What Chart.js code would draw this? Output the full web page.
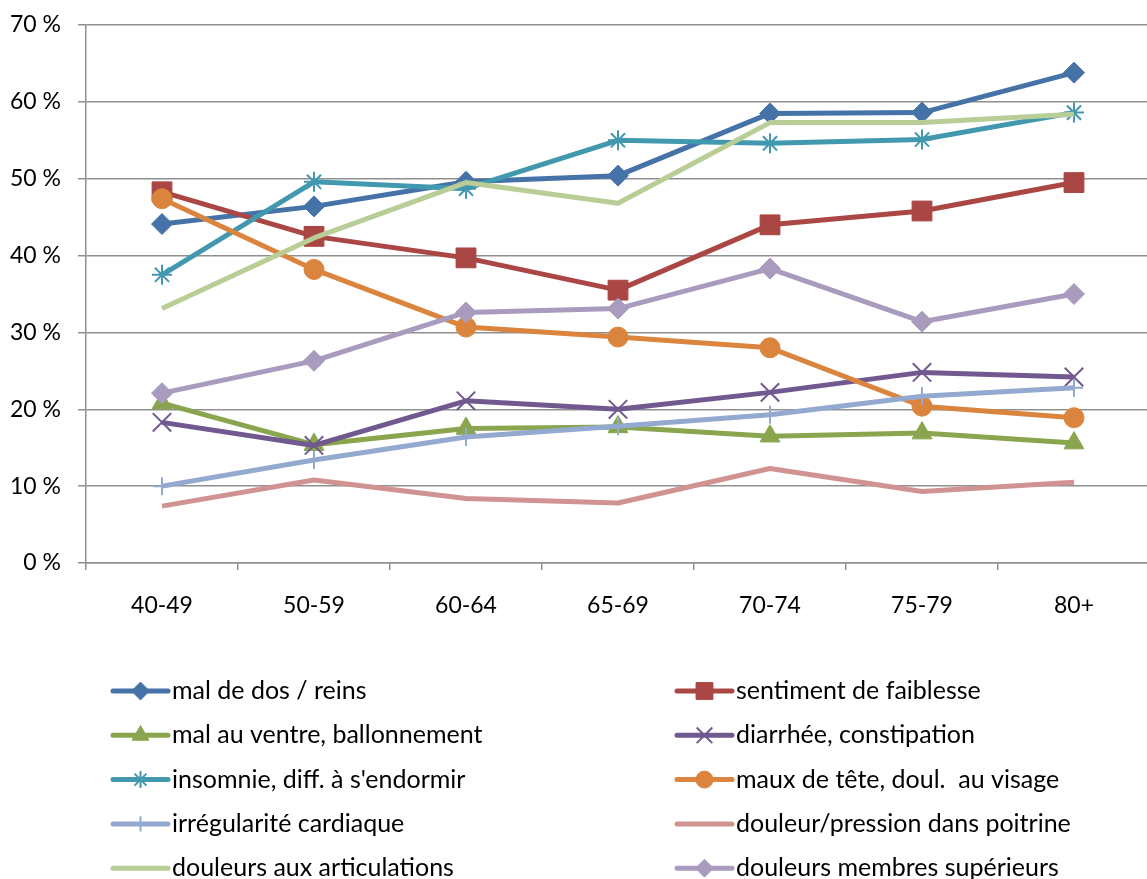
<!DOCTYPE html>
<html lang="fr">
<head>
<meta charset="utf-8">
<title>Symptômes par classe d'âge</title>
<script src="https://cdn.jsdelivr.net/npm/chart.js@4.4.1/dist/chart.umd.min.js"></script>
<style>
  html, body { margin: 0; padding: 0; background: #fff; overflow: hidden; width: 1147px; height: 879px; }
  #wrap { position: relative; width: 1147px; height: 879px; overflow: hidden; }
  #chart { position: absolute; left: 0; top: 0; display: block; }
</style>
</head>
<body>
<div id="wrap"><canvas id="chart" width="1165" height="879"></canvas></div>
<script>
// Age groups on the x axis
const ageGroups = ['40-49', '50-59', '60-64', '65-69', '70-74', '75-79', '80+'];

// Share of respondents reporting each complaint (%)
const malDeDos       = [44.1, 46.4, 49.6, 50.4, 58.5, 58.6, 63.8];
const faiblesse      = [48.3, 42.5, 39.7, 35.5, 44.0, 45.8, 49.5];
const malAuVentre    = [20.8, 15.4, 17.5, 17.7, 16.5, 16.9, 15.6];
const diarrhee       = [18.3, 15.3, 21.1, 20.0, 22.2, 24.8, 24.2];
const insomnie       = [37.5, 49.6, 48.7, 55.0, 54.6, 55.1, 58.6];
const mauxDeTete     = [47.4, 38.2, 30.7, 29.4, 28.0, 20.4, 18.9];
const cardiaque      = [10.0, 13.4, 16.4, 17.8, 19.3, 21.7, 22.8];
const poitrine       = [7.4, 10.8, 8.4, 7.8, 12.3, 9.3, 10.5];
const articulations  = [33.1, 42.3, 49.5, 46.8, 57.3, 57.3, 58.4];
const membresSup     = [22.1, 26.3, 32.6, 33.1, 38.3, 31.4, 35.0];

// Y axis tick values
const yTicks = [0, 10, 20, 30, 40, 50, 60, 70];

const FONT = 'Lato, "Liberation Sans", sans-serif';

function series(label, data, color, pointStyle, radius, pointBorder) {
  return {
    label, data,
    borderColor: color,
    backgroundColor: color,
    pointBackgroundColor: color,
    pointBorderColor: color,
    pointStyle: pointStyle || 'circle',
    pointRadius: radius || 0,
    pointHoverRadius: radius || 0,
    pointBorderWidth: pointBorder || 1,
    borderWidth: 5,
    borderJoinStyle: 'round',
    borderCapStyle: 'butt',
    tension: 0
  };
}

const datasets = [
  series('mal de dos / reins', malDeDos, '#4572A7', 'rectRot', 10.5, 1),
  series('sentiment de faiblesse', faiblesse, '#AA4643', 'rect', 14, 1),
  series('mal au ventre, ballonnement', malAuVentre, '#89A54E', 'triangle', 11.5, 1),
  series('diarrhée, constipation', diarrhee, '#71588F', 'crossRot', 13, 2),
  series('insomnie, diff. à s\'endormir', insomnie, '#4198AF', 'star', 10, 2),
  series('maux de tête, doul.  au visage', mauxDeTete, '#DB843D', 'circle', 10, 1),
  series('irrégularité cardiaque', cardiaque, '#93A9CF', 'cross', 9, 2),
  series('douleur/pression dans poitrine', poitrine, '#D19392', 'circle', 0, 1),
  series('douleurs aux articulations', articulations, '#B9CD96', 'circle', 0, 1),
  series('douleurs membres supérieurs', membresSup, '#A99BBD', 'rectRot', 10.5, 1)
];
// later series are painted over earlier ones
datasets.forEach((d, i) => { d.order = datasets.length - i; });

// Legend laid out in two columns below the plot
const LEGEND_COL_X = [113, 677];
const LEGEND_TOP = 691;
const LEGEND_ROW_H = 44.3;
const LEGEND_LINE_W = 55;

const twoColumnLegend = {
  id: 'twoColumnLegend',
  afterDraw(chart) {
    const ctx = chart.ctx;
    ctx.save();
    chart.data.datasets.forEach((ds, i) => {
      const x0 = LEGEND_COL_X[i % 2];
      const y = LEGEND_TOP + Math.floor(i / 2) * LEGEND_ROW_H;
      ctx.strokeStyle = ds.borderColor;
      ctx.lineWidth = 5;
      ctx.lineCap = 'round';
      ctx.beginPath();
      ctx.moveTo(x0, y);
      ctx.lineTo(x0 + LEGEND_LINE_W, y);
      ctx.stroke();
      if (ds.pointRadius > 0) {
        ctx.fillStyle = ds.pointBackgroundColor;
        ctx.strokeStyle = ds.pointBorderColor;
        ctx.lineWidth = ds.pointBorderWidth;
        ctx.lineCap = 'butt';
        Chart.helpers.drawPoint(ctx, {
          pointStyle: ds.pointStyle,
          radius: ds.pointRadius * 0.85,
          borderWidth: ds.pointBorderWidth,
          rotation: 0
        }, x0 + LEGEND_LINE_W / 2, y);
      }
      ctx.fillStyle = '#000';
      ctx.font = '25px ' + FONT;
      ctx.textAlign = 'left';
      ctx.textBaseline = 'middle';
      ctx.fillText(ds.label, x0 + LEGEND_LINE_W + 4, y);
    });
    ctx.restore();
  }
};

new Chart(document.getElementById('chart'), {
  type: 'line',
  data: { labels: ageGroups, datasets },
  plugins: [twoColumnLegend],
  options: {
    responsive: false,
    animation: false,
    layout: { padding: { top: 25, left: 0, right: 0, bottom: 0 } },
    plugins: {
      legend: { display: false },
      tooltip: { enabled: false },
      title: { display: false }
    },
    scales: {
      x: {
        offset: true,
        grid: {
          offset: true,
          drawOnChartArea: false,
          drawTicks: true,
          tickLength: 7,
          color: '#8f8f8f',
          lineWidth: 1.5
        },
        border: { color: '#8f8f8f', width: 1.5 },
        ticks: {
          color: '#000',
          font: { family: FONT, size: 23 },
          padding: 22,
          maxRotation: 0
        },
        afterFit(scale) {
          scale.height = 879 - 563;
          scale.paddingLeft = 0;
          scale.paddingRight = 0;
        }
      },
      y: {
        min: 0,
        max: 70,
        afterBuildTicks(scale) { scale.ticks = yTicks.map(v => ({ value: v })); },
        grid: {
          color: '#8f8f8f',
          lineWidth: 1.5,
          tickLength: 8
        },
        border: { color: '#8f8f8f', width: 1.5 },
        ticks: {
          color: '#000',
          font: { family: FONT, size: 23 },
          padding: 17,
          callback: v => v + ' %'
        },
        afterFit(scale) {
          scale.width = 86;
          scale.paddingTop = 0;
          scale.paddingBottom = 0;
        }
      }
    }
  }
});
</script>
</body>
</html>
